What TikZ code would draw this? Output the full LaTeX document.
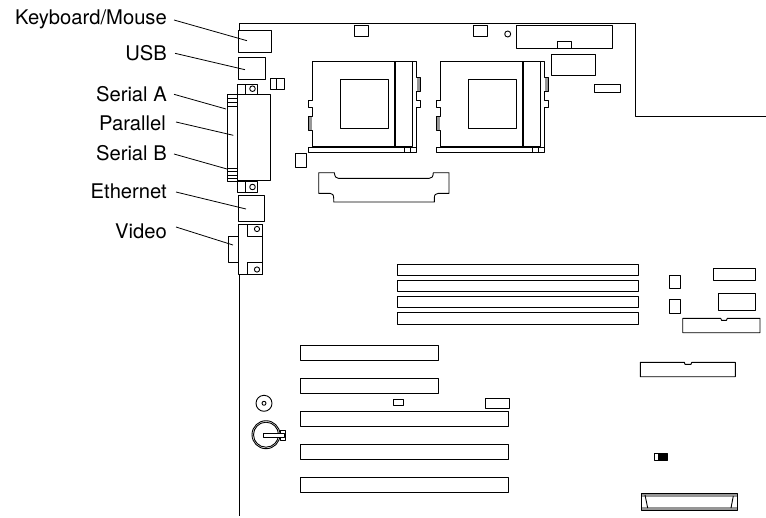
\documentclass[tikz,border=0pt]{standalone}
\usepackage{fontspec}
\setmainfont{TeX Gyre Heros}
\definecolor{boardGray}{RGB}{150, 150, 150}
\begin{document}
\begin{tikzpicture}[x=1pt, y=-1pt]
            % Styles
            \tikzstyle{portlabel} = [anchor=east, inner sep=0pt, font=\fontsize{20.2}{24}\selectfont]
            \tikzstyle{leader} = [line width=0.8pt]
            \tikzstyle{part} = [draw=black, line width=0.9pt, line join=round]
            \tikzstyle{heavy} = [draw=black, line width=1.7pt]

            \useasboundingbox (0, 0) rectangle (766, 517);

            % Nodes - explicit coordinates
            \node[portlabel] (keyboard) at (167, 19) {Keyboard/Mouse};
            \node[portlabel] (usb) at (167, 53) {USB};
            \node[portlabel] (seriala) at (167, 94) {Serial A};
            \node[portlabel] (parallel) at (166, 123) {Parallel};
            \node[portlabel] (serialb) at (167, 153) {Serial B};
            \node[portlabel] (ethernet) at (167, 191) {Ethernet};
            \node[portlabel] (video) at (167, 231) {Video};

            \coordinate (keyboardport) at (247, 40.7);
            \coordinate (usbport) at (245, 69.7);
            \coordinate (serialaport) at (226, 109);
            \coordinate (parallelport) at (233.3, 135.3);
            \coordinate (serialbport) at (227, 169);
            \coordinate (ethernetport) at (246, 209);
            \coordinate (videoport) at (233, 245);

            % Arrows
            \draw[leader] (keyboard.east) ++(7, 1) -- (keyboardport);
            \draw[leader] (usb.east) ++(8, 0.3) -- (usbport);
            \draw[leader] (seriala.east) ++(7, 0.3) -- (serialaport);
            \draw[leader] (parallel.east) ++(10, -1) -- (parallelport);
            \draw[leader] (serialb.east) ++(7, 1) -- (serialbport);
            \draw[leader] (ethernet.east) ++(9, 1) -- (ethernetport);
            \draw[leader] (video.east) ++(9, -4) -- (videoport);

            % Board outline
            \draw[part] (239.7, 30.5) -- (239.7, 23.7) -- (635.3, 23.7) -- (635.3, 116) -- (766, 116);
            \draw[part] (239.7, 274.5) -- (239.7, 516);

            % Rear ports
            \draw[part] (238, 30.7) rectangle (271.7, 52.7);
            \draw[part] (238, 57.5) rectangle (265.7, 79);
            \draw[part] (237.5, 84) rectangle (245.5, 94);
            \draw[part] (245.5, 84) rectangle (257.5, 94);
            \draw[part] (252.5, 88.7) circle (2.8);
            \draw[part] (270, 78.5) rectangle (276.7, 89.3);
            \draw[part] (276.7, 78.5) rectangle (284.3, 89.3);
            \draw[part] (237, 94.3) rectangle (270, 180.7);
            \draw[part] (227.5, 94.3) rectangle (237, 181.3);
            \draw[part] (227.5, 98) -- (237, 98) (227.5, 102.3) -- (237, 102.3) (227.5, 106.5) -- (237, 106.5);
            \draw[part] (227.5, 168) -- (237, 168) (227.5, 171.7) -- (237, 171.7) (227.5, 175) -- (237, 175) (227.5, 178.3) -- (237, 178.3);
            \draw[part] (237, 181) rectangle (245.5, 192.5);
            \draw[part] (245.5, 181) rectangle (257.5, 192.5);
            \draw[part] (252.5, 187) circle (2.8);
            \draw[part] (238.5, 195.3) rectangle (264, 221.5);
            \draw[part] (238.5, 224) rectangle (262.7, 274.5);
            \draw[part] (228.5, 236) rectangle (238.5, 262.5);
            \draw[part] (247, 224) rectangle (262.7, 236);
            \draw[part] (257, 229) circle (2.6);
            \draw[part] (247, 262.5) rectangle (262.7, 274.5);
            \draw[part] (257, 269.5) circle (2.6);

            % Processor sockets
            \foreach \dx in {0, 127.7} {
                \begin{scope}[xshift=\dx]
                    \draw[part] (312.3, 146.7) -- (312.3, 130) -- (308.5, 130) -- (308.5, 116.7) -- (312.3, 116.7) -- (312.3, 107.3) -- (308.5, 107.3) -- (308.5, 100) -- (312.3, 100) -- (312.3, 61.3) -- (416.7, 61.3) -- (416.7, 77.7) -- (420.7, 77.7) -- (420.7, 91) -- (416.7, 91) -- (416.7, 100) -- (420.7, 100) -- (420.7, 107.3) -- (416.7, 107.3) -- (416.7, 152.3);
                    \draw[part] (340.7, 79) rectangle (388.7, 128.7);
                    \draw[heavy] (395, 61.3) -- (395, 146.7);
                    \draw[part] (412.3, 61.3) -- (412.3, 146.7) -- (312.3, 146.7);
                    \draw[part] (308.5, 147.5) rectangle (416.7, 152.3);
                    \draw[part] (404.5, 146.7) rectangle (410.7, 152.3);
                    \fill[boardGray] (309, 117.2) rectangle (312, 129.5);
                    \fill[boardGray] (417.2, 78.2) rectangle (420.2, 90.5);
                \end{scope}
            }
            \draw[part] (295, 153.7) rectangle (306, 167.3);
            \draw[part] (318.7, 172.7) -- (334.3, 172.7) .. controls (335, 177) and (336, 178.3) .. (338.3, 178.3) -- (429.3, 178.3) .. controls (432, 178.3) and (433, 177) .. (433.3, 172.7) -- (449, 172.7) -- (449, 193.3) -- (438.3, 193.3) .. controls (435.5, 193.3) and (434.3, 195) .. (434.3, 198.3) -- (434.3, 202) -- (333.7, 202) -- (333.7, 198.3) .. controls (333.7, 195) and (332.5, 193.3) .. (330, 193.3) -- (318.7, 193.3) -- cycle;

            % Top edge parts
            \draw[part] (354.3, 25.7) rectangle (368.3, 36.7);
            \draw[part] (473.7, 25.7) rectangle (487.7, 36.7);
            \draw[part] (507.7, 34) circle (3);
            \draw[part] (516.3, 25.7) rectangle (612.7, 48.3);
            \draw[part] (557.7, 48.3) -- (557.7, 41.7) -- (571.3, 41.7) -- (571.3, 48.3);
            \draw[part] (551.7, 54.3) rectangle (595.7, 75.3);
            \draw[part] (594.3, 84.3) rectangle (620.7, 92.3);

            % Memory slots
            \draw[part] (397, 264) rectangle (638.3, 275);
            \draw[part] (397, 280) rectangle (638.3, 291);
            \draw[part] (397, 296) rectangle (638.3, 307.5);
            \draw[part] (397, 312.5) rectangle (638.3, 324);

            % Right side parts
            \draw[part] (669.3, 275) rectangle (680.3, 288.7);
            \draw[part] (669.3, 299.3) rectangle (680.3, 313);
            \draw[part] (713.7, 268.3) rectangle (755.3, 280);
            \draw[part] (718.3, 293.3) rectangle (755.3, 310);
            \draw[part] (682.7, 318.3) -- (720.7, 318.3) -- (721.5, 320.3) -- (726.5, 320.3) -- (727.3, 318.3) -- (760, 318.3) -- (760, 332.7) -- (682.7, 332.7) -- cycle;
            \draw[part] (640.3, 362.3) -- (684.3, 362.3) -- (685, 364.3) -- (691, 364.3) -- (691.7, 362.3) -- (735.3, 362.3) -- (735.3, 376.7) -- (640.3, 376.7) -- cycle;

            % Expansion slots
            \draw[part] (300.7, 345.7) rectangle (438.3, 360.7);
            \draw[part] (300.7, 378.7) rectangle (438.3, 393.3);
            \draw[part] (300.7, 411.7) rectangle (508.3, 426.7);
            \draw[part] (300.7, 444.7) rectangle (508.3, 459.3);
            \draw[part] (300.7, 477.7) rectangle (508.3, 492.7);
            \draw[part] (393, 399.7) rectangle (403.7, 405.3);
            \draw[part] (485.3, 398.7) rectangle (509.3, 408.3);

            % Battery
            \draw[part] (264, 403.3) circle (8);
            \draw[part] (264, 403.3) circle (2);
            \draw[part] (266, 434.7) circle (14);
            \draw[part] (266, 434.7) circle (12.5);
            \draw[part, fill=white] (280, 430) rectangle (285, 440);
            \draw[part, fill=white] (263.3, 433) rectangle (284, 437);

            % Bottom right parts
            \draw[part] (654.3, 453.3) rectangle (667.3, 460);
            \fill[black] (657.7, 453.3) rectangle (667.3, 460);
            \fill[boardGray] (642, 494) rectangle (737, 497.3);
            \fill[boardGray] (642, 506.7) rectangle (737, 510);
            \draw[part] (641.7, 493.7) rectangle (737.3, 510);
            \draw[part] (645, 495) -- (647.7, 508) (733.3, 496) -- (731, 508);
        \end{tikzpicture}
\end{document}
